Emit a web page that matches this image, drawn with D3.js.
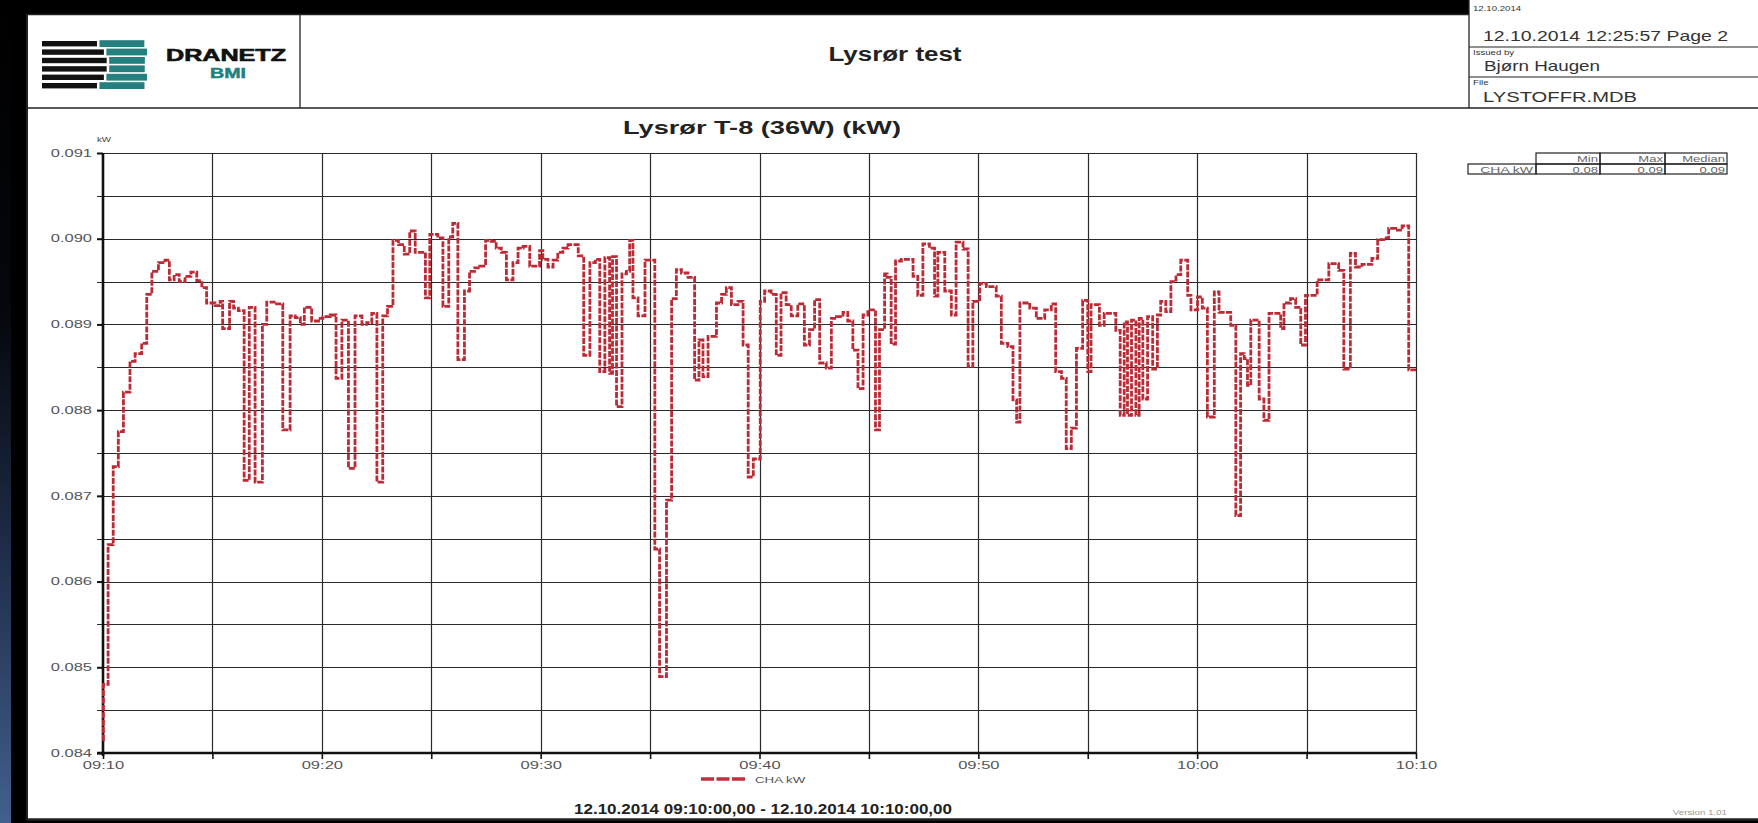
<!DOCTYPE html>
<html><head><meta charset="utf-8">
<script src="https://cdn.jsdelivr.net/npm/d3@7"></script>
<style>
html,body{margin:0;padding:0;background:#000;overflow:hidden}
svg{display:block}
text{font-family:"Liberation Sans",Arial,sans-serif}
</style>
</head><body>
<svg id="c" width="1758" height="823"></svg>
<script>
// ---------- data ----------
// seconds after 12.10.2014 09:10:00 at which the logged value changes (step series)
const tSec = [0,1,14,28,42,56,74,88,106,120,134,152,170,182,195,209,225,241,257,271,284,307,321,328,347,358,371,387,401,417,437,449,476,493,513,527,541,552,572,591,603,623,639,655,673,691,710,723,737,751,767,780,795,810,826,841,856,884,896,918,932,948,959,973,991,1005,1019,1033,1049,1064,1078,1092,1106,1124,1138,1152,1170,1197,1206,1220,1234,1247,1261,1275,1303,1318,1335,1350,1362,1376,1389,1397,1408,1423,1435,1444,1453,1467,1486,1513,1526,1545,1559,1572,1586,1604,1622,1634,1645,1659,1682,1696,1709,1723,1741,1755,1769,1783,1802,1814,1832,1846,1859,1873,1887,1905,1923,1937,1951,1965,1983,1997,2011,2029,2042,2056,2070,2084,2097,2118,2129,2143,2150,2161,2173,2189,2221,2234,2248,2266,2280,2289,2308,2326,2339,2358,2372,2385,2404,2422,2449,2463,2481,2495,2505,2514,2541,2559,2582,2600,2612,2628,2641,2655,2669,2686,2700,2709,2732,2745,2777,2789,2800,2809,2820,2832,2841,2851,2864,2878,2891,2900,2914,2928,2942,2955,2974,2983,3001,3014,3028,3047,3060,3092,3106,3119,3129,3138,3147,3170,3183,3197,3229,3238,3256,3270,3284,3297,3329,3361,3388,3402,3420,3434,3452,3479,3495,3512,3525,3544,3562,3580,3600];
const kW = [0.08415,0.0848,0.08643,0.08734,0.08775,0.08821,0.08857,0.08866,0.08878,0.08935,0.08962,0.08972,0.08975,0.08952,0.08958,0.0895,0.08956,0.08961,0.08951,0.08943,0.08925,0.08922,0.08927,0.08895,0.08927,0.08919,0.08916,0.08718,0.0892,0.08716,0.089,0.08926,0.08924,0.08777,0.0891,0.08908,0.089,0.0892,0.08904,0.08907,0.08909,0.08911,0.08837,0.08905,0.08732,0.0891,0.089,0.08902,0.08913,0.08716,0.0891,0.08921,0.08998,0.08993,0.08982,0.09009,0.08984,0.08931,0.09005,0.09001,0.08921,0.09002,0.09018,0.08859,0.08939,0.08962,0.08966,0.08968,0.08998,0.08997,0.08989,0.08984,0.08952,0.08972,0.08989,0.08991,0.08968,0.08986,0.08976,0.08967,0.08975,0.08984,0.08989,0.08993,0.0898,0.08864,0.08972,0.08976,0.08845,0.08978,0.08843,0.08979,0.08804,0.08959,0.08962,0.08998,0.08931,0.0891,0.08975,0.08638,0.08489,0.08695,0.0893,0.08964,0.0896,0.08955,0.08835,0.08882,0.08839,0.08886,0.08925,0.08935,0.08943,0.08923,0.08927,0.08876,0.08722,0.08743,0.08927,0.08939,0.08935,0.08864,0.08937,0.08923,0.0891,0.08924,0.08876,0.08894,0.08929,0.08855,0.08849,0.08907,0.08909,0.08914,0.08904,0.0887,0.08825,0.08911,0.08917,0.08777,0.08894,0.08959,0.08955,0.08877,0.08974,0.08976,0.08956,0.08934,0.08994,0.08989,0.08933,0.08984,0.08939,0.08911,0.08996,0.08988,0.08851,0.08927,0.08948,0.08944,0.08933,0.08878,0.08874,0.08812,0.08786,0.08925,0.08919,0.08907,0.08917,0.08924,0.08845,0.08837,0.08755,0.08779,0.08872,0.08928,0.08845,0.08923,0.08899,0.08913,0.08893,0.08794,0.08903,0.08794,0.08905,0.08794,0.08907,0.08813,0.08909,0.08848,0.08911,0.08927,0.08915,0.0895,0.08958,0.08975,0.08934,0.08917,0.08932,0.08919,0.08792,0.08938,0.08914,0.08899,0.08677,0.08866,0.0886,0.08829,0.08905,0.08813,0.08788,0.08913,0.08895,0.08925,0.0893,0.0892,0.08876,0.08934,0.08952,0.08971,0.08963,0.08848,0.08983,0.08967,0.0897,0.08977,0.08999,0.09001,0.09012,0.0901,0.09015,0.08847,0.08847];
const yTickValues = [0.084,0.085,0.086,0.087,0.088,0.089,0.090,0.091];
const xTickLabels = ["09:10","09:20","09:30","09:40","09:50","10:00","10:10"];
const seriesName = "CHA kW";
const statHeaders = ["Min","Max","Median"];
const statValues = ["0.08","0.09","0.09"];
const reportTitle = "Lysrør test";
const chartTitle = "Lysrør T-8 (36W) (kW)";
const rangeText = "12.10.2014 09:10:00,00 - 12.10.2014 10:10:00,00";
const headerInfo = {dateSmall:"12.10.2014", stamp:"12.10.2014 12:25:57   Page 2", issuedLabel:"Issued by", issuedBy:"Bjørn Haugen", fileLabel:"File", file:"LYSTOFFR.MDB"};
const versionText = "Version 1.01";

// ---------- drawing ----------
const svg = d3.select("#c");
const W = 1758, H = 823;
function widen(sel, k){ sel.each(function(){ const L=this.getComputedTextLength(); if(L>0){ this.setAttribute("textLength", (L*k).toFixed(1)); this.setAttribute("lengthAdjust","spacingAndGlyphs"); } }); return sel; }
function fitTo(sel, w){ sel.attr("textLength", w).attr("lengthAdjust","spacingAndGlyphs"); return sel; }

const defs = svg.append("defs");
const g1 = defs.append("linearGradient").attr("id","strip").attr("x1",0).attr("y1",0).attr("x2",0).attr("y2",1);
g1.append("stop").attr("offset","0%").attr("stop-color","#000");
g1.append("stop").attr("offset","38%").attr("stop-color","#05070c");
g1.append("stop").attr("offset","65%").attr("stop-color","#1d2a44");
g1.append("stop").attr("offset","100%").attr("stop-color","#42608e");

svg.append("rect").attr("width",W).attr("height",H).attr("fill","#000");
svg.append("rect").attr("x",0).attr("y",0).attr("width",11).attr("height",H).attr("fill","url(#strip)");

// page
const HX = 1469; // right header cell divider
svg.append("rect").attr("x",27).attr("y",14).attr("width",W-27).attr("height",806).attr("fill","#fff");
svg.append("rect").attr("x",HX).attr("y",0).attr("width",W-HX).attr("height",108).attr("fill","#fff");
const ln = (x1,y1,x2,y2,w,c)=>svg.append("line").attr("x1",x1).attr("y1",y1).attr("x2",x2).attr("y2",y2).attr("stroke",c||"#222").attr("stroke-width",w||1.5);
ln(27,14.5,HX,14.5,1.6);
ln(27,14,27,820,2);
ln(27,819.5,W,819.5,2.5);
ln(27,108,W,108,1.6);
ln(300,14,300,108,1.3);
ln(HX,0,HX,108,1.3);
ln(HX,47,W,47,1.2);
ln(HX,77,W,77,1.2);

// logo
const logo = svg.append("g");
const stripeTops = d3.range(6).map(i => 41 + i*8.4);
stripeTops.forEach((y0,i) => {
  const yc = y0 + 2.6, dy = yc - 64.6, R = 27;
  const bEnd = 80 + Math.sqrt(Math.max(0, R*R - dy*dy));
  logo.append("rect").attr("x",42).attr("y",y0).attr("width",bEnd-42).attr("height",5.4).attr("fill","#111");
  const lc = i < 3 ? 52.4 : 77.0, r = 16;
  const tEnd = 131 + Math.sqrt(Math.max(0, r*r - (yc-lc)*(yc-lc)));
  logo.append("rect").attr("x",bEnd+2.5).attr("y",y0-0.8).attr("width",tEnd-bEnd-2.5).attr("height",6.8).attr("fill","#23807f");
});
fitTo(svg.append("text").attr("x",226).attr("y",61).attr("text-anchor","middle").attr("font-size",16).attr("font-weight",900).attr("fill","#111").attr("stroke","#111").attr("stroke-width",0.6).text("DRANETZ"),120);
fitTo(svg.append("text").attr("x",228).attr("y",78).attr("text-anchor","middle").attr("font-size",15.5).attr("font-weight",900).attr("fill","#23807f").attr("stroke","#23807f").attr("stroke-width",0.5).text("BMI"),36);

// titles
fitTo(svg.append("text").attr("x",895).attr("y",61).attr("text-anchor","middle").attr("font-size",20).attr("font-weight","bold").attr("fill","#222").text(reportTitle),133);
fitTo(svg.append("text").attr("x",762).attr("y",134).attr("text-anchor","middle").attr("font-size",19).attr("font-weight","bold").attr("fill","#222").text(chartTitle),278);

// right header
const hdr = svg.append("g").attr("fill","#333");
widen(hdr.append("text").attr("x",HX+4).attr("y",11).attr("font-size",8).text(headerInfo.dateSmall),1.2);
fitTo(hdr.append("text").attr("x",HX+14).attr("y",41).attr("font-size",15).text(headerInfo.stamp),245);
widen(hdr.append("text").attr("x",HX+4).attr("y",55).attr("font-size",8).text(headerInfo.issuedLabel),1.2);
fitTo(hdr.append("text").attr("x",HX+15).attr("y",71).attr("font-size",14.5).text(headerInfo.issuedBy),116);
widen(hdr.append("text").attr("x",HX+4).attr("y",85).attr("font-size",8).text(headerInfo.fileLabel),1.2);
fitTo(hdr.append("text").attr("x",HX+14).attr("y",102).attr("font-size",14.5).text(headerInfo.file),154);

// scales
const t0 = new Date(2014,9,12,9,10,0);
const x = d3.scaleTime().domain([t0, new Date(t0.getTime()+3600e3)]).range([103,1416]);
const y = d3.scaleLinear().domain([0.084,0.091]).range([753,153]);
const pts = tSec.map((s,i)=>({t:new Date(t0.getTime()+s*1000), v:kW[i]}));

// grid
const grid = svg.append("g");
const hLines = d3.range(1,15).map(i => 0.084 + i*0.0005);
grid.selectAll("line.h").data(hLines).join("line")
  .attr("x1",97).attr("x2",1416).attr("y1",d=>Math.round(y(d))+0.5).attr("y2",d=>Math.round(y(d))+0.5)
  .attr("stroke","#2a2a2a").attr("stroke-width",1.2);
const vTimes = d3.timeMinute.every(5).range(new Date(t0.getTime()+1000), new Date(t0.getTime()+3601e3));
grid.selectAll("line.v").data(vTimes).join("line")
  .attr("x1",d=>Math.round(x(d))+0.5).attr("x2",d=>Math.round(x(d))+0.5).attr("y1",153).attr("y2",753)
  .attr("stroke","#2a2a2a").attr("stroke-width",1.2);

// axes
const fmt = d3.timeFormat("%H:%M");
const yAxis = d3.axisLeft(y).tickValues(yTickValues).tickSize(6).tickPadding(5).tickFormat(d3.format(".3f"));
const gy = svg.append("g").attr("transform","translate(103,0)").call(yAxis);
gy.select(".domain").remove();
gy.selectAll(".tick line").attr("stroke","#111").attr("stroke-width",2);
gy.selectAll(".tick text").attr("font-size",10).attr("fill","#555").attr("font-family","Liberation Sans, Arial, sans-serif").call(s=>widen(s,1.65));

const xAxis = d3.axisBottom(x).ticks(d3.timeMinute.every(5)).tickSize(6).tickPadding(3)
  .tickFormat(d => xTickLabels.includes(fmt(d)) ? fmt(d) : "");
const gx = svg.append("g").attr("transform","translate(0,753)").call(xAxis);
gx.select(".domain").remove();
gx.selectAll(".tick line").attr("stroke","#111").attr("stroke-width",1.6);
gx.selectAll(".tick text").attr("font-size",10).attr("fill","#555").attr("font-family","Liberation Sans, Arial, sans-serif").call(s=>widen(s,1.65));

// axis lines
ln(103,153,103,756,2.6,"#111");
ln(97,753,1416,753,2.6,"#111");
widen(svg.append("text").attr("x",104).attr("y",142).attr("text-anchor","middle").attr("font-size",7.5).attr("fill","#444").text("kW"),1.3);

// series
const line = d3.line().x(d=>x(d.t)).y(d=>y(d.v)).curve(d3.curveStepAfter);
svg.append("path").datum(pts).attr("d",line).attr("fill","none")
  .attr("stroke","#bb2a35").attr("stroke-width",2.8).attr("stroke-dasharray","6,1.4").attr("stroke-linejoin","miter");

// legend
svg.append("line").attr("x1",701).attr("x2",745).attr("y1",779).attr("y2",779).attr("stroke","#c42f3b").attr("stroke-width",3.4).attr("stroke-dasharray","13,2.5");
widen(svg.append("text").attr("x",755).attr("y",782.5).attr("font-size",9.5).attr("fill","#555").text(seriesName),1.4);

// range text
fitTo(svg.append("text").attr("x",574).attr("y",814).attr("font-size",14).attr("font-weight","bold").attr("fill","#222").text(rangeText),378);

// stats table
const tb = svg.append("g");
const colX = [1536,1600,1665], colW = [64,65,62];
colX.forEach((cx,i)=>{
  tb.append("rect").attr("x",cx).attr("y",153).attr("width",colW[i]).attr("height",11).attr("fill","none").attr("stroke","#222").attr("stroke-width",1.2);
  tb.append("rect").attr("x",cx).attr("y",164).attr("width",colW[i]).attr("height",10).attr("fill","none").attr("stroke","#222").attr("stroke-width",1.2);
  widen(tb.append("text").attr("x",cx+colW[i]-2).attr("y",162).attr("text-anchor","end").attr("font-size",9).attr("fill","#666").text(statHeaders[i]),1.45);
  widen(tb.append("text").attr("x",cx+colW[i]-2).attr("y",172.5).attr("text-anchor","end").attr("font-size",9).attr("fill","#666").text(statValues[i]),1.45);
});
tb.append("rect").attr("x",1468).attr("y",164).attr("width",68).attr("height",10).attr("fill","none").attr("stroke","#222").attr("stroke-width",1.2);
widen(tb.append("text").attr("x",1533).attr("y",172.5).attr("text-anchor","end").attr("font-size",9).attr("fill","#666").text(seriesName),1.55);

// footer version (kept inside the page, just above the bottom rule)
widen(svg.append("text").attr("x",1727).attr("y",815).attr("text-anchor","end").attr("font-size",7.5).attr("fill","#999").text(versionText),1.3);
</script>
</body></html>
